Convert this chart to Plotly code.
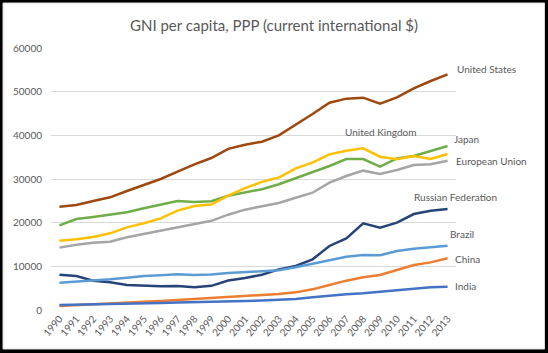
import plotly.graph_objects as go

years = list(range(1990, 2014))

united_states = [23660, 24050, 24960, 25800, 27250, 28620, 30000, 31680, 33360, 34800,
                 36900, 37850, 38550, 40000, 42370, 44880, 47480, 48400, 48620, 47250,
                 48700, 50760, 52440, 53970]
japan = [19390, 20840, 21300, 21760, 22370, 23280, 24200, 24960, 24730, 24900,
         26150, 26950, 27670, 28800, 30150, 31450, 32980, 34580, 34580, 32830,
         34730, 35270, 36490, 37560]
united_kingdom = [15880, 16180, 16720, 17560, 18930, 19850, 20990, 22750, 23820, 24150,
                  26200, 27900, 29350, 30340, 32440, 33740, 35650, 36490, 37020, 35110,
                  34500, 35270, 34580, 35720]
european_union = [14280, 14960, 15420, 15650, 16640, 17400, 18090, 18860, 19690, 20420,
                  21830, 22980, 23740, 24500, 25720, 26860, 29160, 30690, 31910, 31140,
                  32060, 33200, 33360, 34200]
russian_federation = [8090, 7790, 6720, 6340, 5730, 5570, 5420, 5500, 5190, 5530,
                      6750, 7320, 8090, 9300, 10080, 11600, 14660, 16410, 19850, 18850,
                      20000, 21980, 22750, 23130]
brazil = [6260, 6490, 6640, 7020, 7400, 7790, 7940, 8170, 8020, 8130,
          8470, 8660, 8890, 9080, 9770, 10530, 11450, 12210, 12600, 12520,
          13510, 14040, 14350, 14730]
china = [920, 1150, 1300, 1530, 1680, 1910, 2060, 2290, 2520, 2670,
         2860, 3050, 3320, 3660, 4040, 4730, 5730, 6720, 7480, 8015,
         9160, 10300, 10910, 11830]
india = [1150, 1200, 1250, 1300, 1400, 1500, 1600, 1700, 1750, 1850,
         1950, 2050, 2150, 2290, 2520, 2900, 3280, 3590, 3820, 4200,
         4580, 4960, 5190, 5340]

series_names = ["United States", "Japan", "United Kingdom", "European Union",
                "Russian Federation", "Brazil", "China", "India"]
series_values = [united_states, japan, united_kingdom, european_union,
                 russian_federation, brazil, china, india]
series_colors = ["#9E480E", "#70AD47", "#FFC000", "#A5A5A5",
                 "#264478", "#5B9BD5", "#ED7D31", "#4472C4"]

# label anchor positions (data coords, left-anchored)
label_x = [2013.44, 2013.26, 2006.8, 2013.38, 2010.9, 2013.02, 2013.32, 2013.32]
label_y = [55190, 39160, 40760, 34120, 25880, 17400, 11680, 5500]

y_ticks = [0, 10000, 20000, 30000, 40000, 50000, 60000]
title_text = "GNI per capita, PPP (current international $)"

FONT = "Lato, 'Open Sans', sans-serif"
GRAY = "#595959"

fig = go.Figure()
for name, vals, col in zip(series_names, series_values, series_colors):
    fig.add_trace(go.Scatter(x=years, y=vals, mode="lines", name=name,
                             line=dict(color=col, width=2.5), showlegend=False))

for name, lx, ly in zip(series_names, label_x, label_y):
    fig.add_annotation(x=lx, y=ly, xref="x", yref="y", text=name, showarrow=False,
                       xanchor="left", yanchor="middle",
                       font=dict(family=FONT, size=10, color=GRAY))

W, H = 548, 353
ml, mr, mt, mb = 51, 92, 48, 43
pw, ph = W - ml - mr, H - mt - mb

def px_to_paper_x(px):
    return (px - ml) / pw

def py_to_paper_y(py):
    return (H - mb - py) / ph

fig.add_shape(type="rect", xref="paper", yref="paper",
              x0=px_to_paper_x(3), x1=px_to_paper_x(544.5),
              y0=py_to_paper_y(349), y1=py_to_paper_y(3),
              fillcolor="white", line=dict(color="#D9D9D9", width=1), layer="below")

fig.update_layout(
    width=W, height=H,
    margin=dict(l=ml, r=mr, t=mt, b=mb, autoexpand=False),
    paper_bgcolor="black", plot_bgcolor="rgba(0,0,0,0)",
    title=dict(text=title_text, x=0.5, xref="paper", xanchor="center",
               y=(H - 26) / H, yref="container", yanchor="middle",
               font=dict(family=FONT, size=15, color=GRAY)),
    font=dict(family=FONT, color=GRAY),
)
fig.update_layout(title_x=(274 - ml) / pw)

fig.update_xaxes(range=[1989.5, 2013.5], tickmode="array", tickvals=years,
                 ticktext=[str(y) for y in years], tickangle=-50,
                 tickfont=dict(family=FONT, size=10, color=GRAY),
                 showgrid=False, zeroline=False, showline=False, ticks="")
fig.update_yaxes(range=[0, 60000], tickmode="array", tickvals=y_ticks,
                 ticktext=[str(v) for v in y_ticks],
                 tickfont=dict(family=FONT, size=10, color=GRAY),
                 showgrid=True, gridcolor="#D9D9D9", gridwidth=1,
                 zeroline=False, showline=False, ticks="", ticklabelstandoff=8)

fig.write_html("out.html")
